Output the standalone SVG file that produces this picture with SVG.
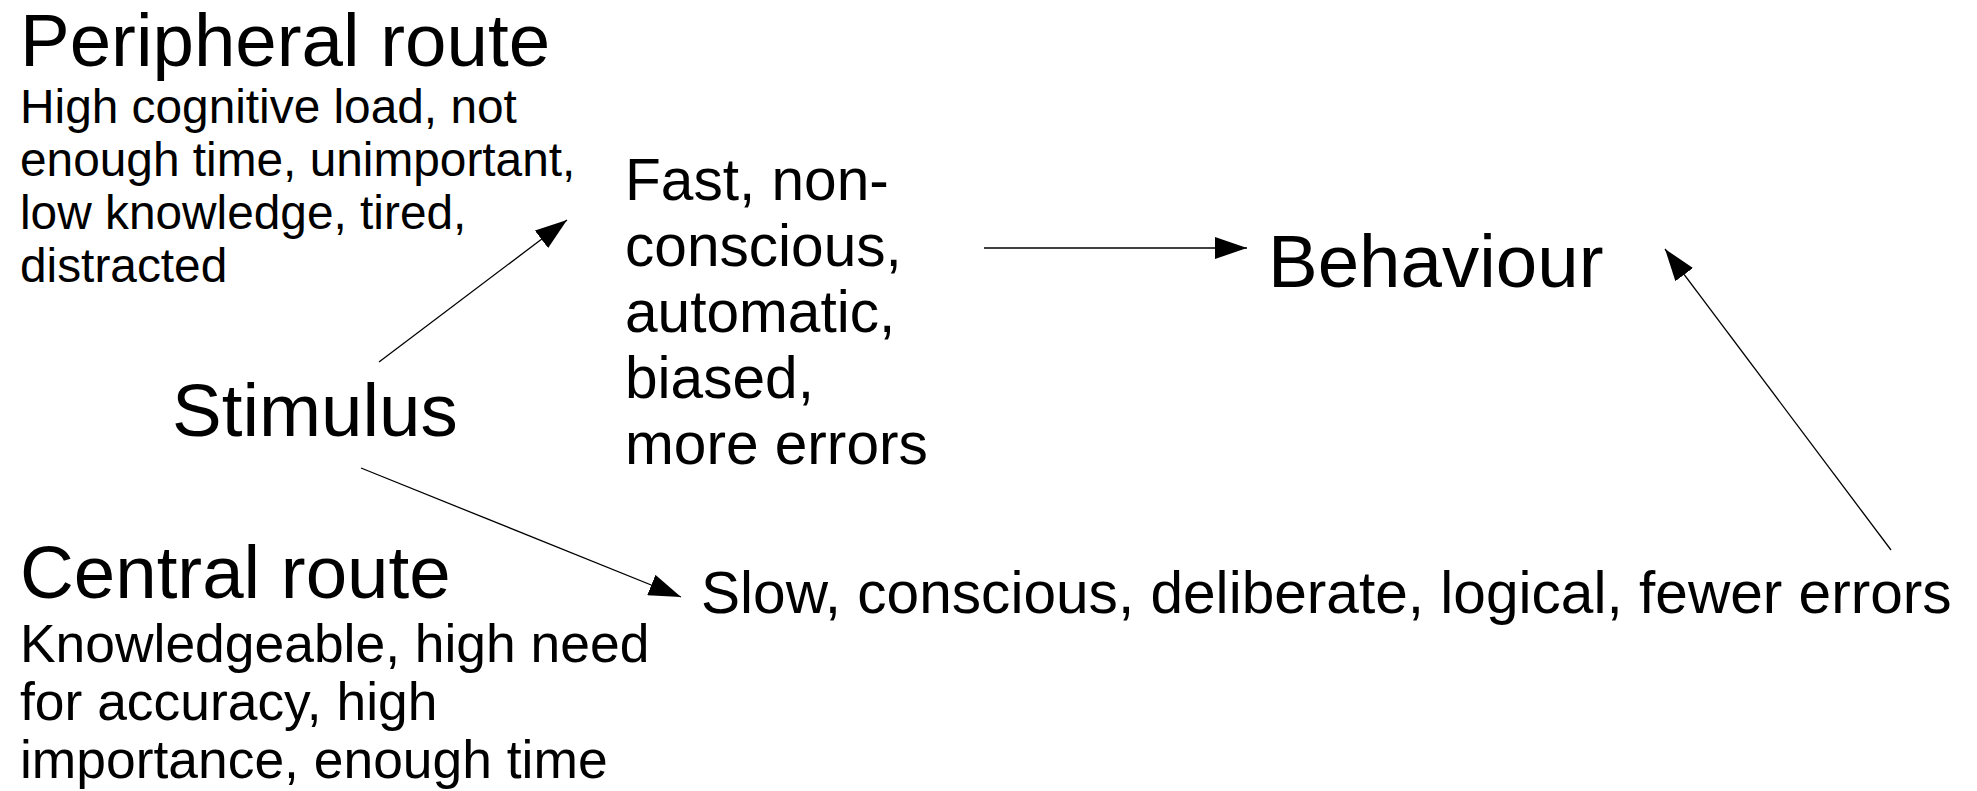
<svg xmlns="http://www.w3.org/2000/svg" width="1977" height="791" viewBox="0 0 1977 791">
<style>
text{font-family:"Liberation Sans",Arial,sans-serif;fill:#000}
.big{font-size:74.5px}
.sub1{font-size:47.8px}
.sub2{font-size:53.4px}
.mid{font-size:58.6px}
.conn line{stroke:#000;stroke-width:1.3;fill:none;marker-end:url(#ah)}
</style>
<defs>
<marker id="ah" markerUnits="userSpaceOnUse" markerWidth="32" markerHeight="22" refX="32" refY="11" orient="auto" viewBox="0 0 32 22">
<path d="M0,0 L32,11 L0,22 z" fill="#000"/>
</marker>
</defs>
<rect width="1977" height="791" fill="#fff"/>
<g id="peripheral">
<text class="big" x="20" y="66">Peripheral route</text>
<text class="sub1" x="20" y="123">High cognitive load, not</text>
<text class="sub1" x="20" y="176">enough time, unimportant,</text>
<text class="sub1" x="20" y="229">low knowledge, tired,</text>
<text class="sub1" x="20" y="282">distracted</text>
</g>
<g id="central">
<text class="big" x="20" y="598">Central route</text>
<text class="sub2" x="20" y="662">Knowledgeable, high need</text>
<text class="sub2" x="20" y="720">for accuracy, high</text>
<text class="sub2" x="20" y="778">importance, enough time</text>
</g>
<g id="stimulus">
<text class="big" x="172" y="436">Stimulus</text>
</g>
<g id="fast">
<text class="mid" x="625" y="200">Fast, non-</text>
<text class="mid" x="625" y="266">conscious,</text>
<text class="mid" x="625" y="332">automatic,</text>
<text class="mid" x="625" y="398">biased,</text>
<text class="mid" x="625" y="464">more errors</text>
</g>
<g id="slow">
<text class="mid" x="701" y="613">Slow, conscious, deliberate, logical, fewer errors</text>
</g>
<g id="behaviour">
<text class="big" x="1268" y="287">Behaviour</text>
</g>
<g class="conn" id="connectors">
<line x1="379" y1="362" x2="567" y2="220"/>
<line x1="361" y1="468" x2="681" y2="597"/>
<line x1="984" y1="248" x2="1247" y2="248"/>
<line x1="1891" y1="550" x2="1665" y2="249"/>
</g>
</svg>
